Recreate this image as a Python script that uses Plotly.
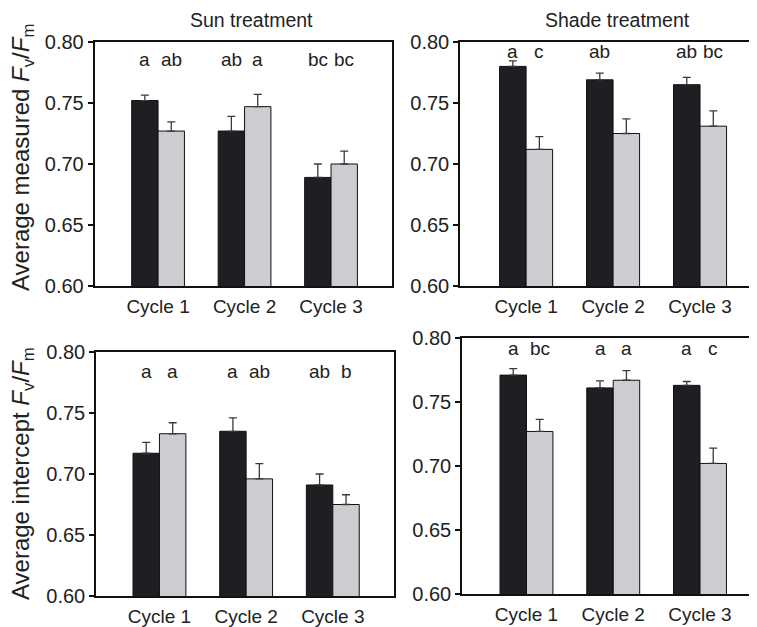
import plotly.graph_objects as go
from plotly.subplots import make_subplots

cycles = ["Cycle 1", "Cycle 2", "Cycle 3"]
y_ticks = [0.60, 0.65, 0.70, 0.75, 0.80]

# Sun treatment, measured Fv/Fm
sun_meas_dark = [0.752, 0.727, 0.689]
sun_meas_dark_err = [0.0045, 0.012, 0.011]
sun_meas_light = [0.727, 0.747, 0.700]
sun_meas_light_err = [0.0075, 0.010, 0.0105]
sun_meas_dark_letters = ["a", "ab", "bc"]
sun_meas_light_letters = ["ab", "a", "bc"]

# Shade treatment, measured Fv/Fm
shade_meas_dark = [0.780, 0.769, 0.765]
shade_meas_dark_err = [0.0045, 0.0055, 0.006]
shade_meas_light = [0.712, 0.725, 0.731]
shade_meas_light_err = [0.0105, 0.012, 0.0125]
shade_meas_dark_letters = ["a", "ab", "ab"]
shade_meas_light_letters = ["c", "", "bc"]

# Sun treatment, intercept Fv/Fm
sun_int_dark = [0.717, 0.735, 0.691]
sun_int_dark_err = [0.009, 0.011, 0.009]
sun_int_light = [0.733, 0.696, 0.675]
sun_int_light_err = [0.009, 0.0125, 0.008]
sun_int_dark_letters = ["a", "a", "ab"]
sun_int_light_letters = ["a", "ab", "b"]

# Shade treatment, intercept Fv/Fm
shade_int_dark = [0.771, 0.761, 0.763]
shade_int_dark_err = [0.005, 0.0055, 0.003]
shade_int_light = [0.727, 0.767, 0.702]
shade_int_light_err = [0.0095, 0.0075, 0.012]
shade_int_dark_letters = ["a", "a", "a"]
shade_int_light_letters = ["bc", "a", "c"]

# page body has an 8px margin, so the figure is shrunk and positions offset
OFF = 8
W, H = 757 - OFF, 627 - OFF
FONT = "Liberation Sans, Arial, Helvetica, sans-serif"
DARK = "#1e1f23"
LIGHT = "#cbcdd0"
TXT = "#222222"

def px_x(v):
    return (v - OFF) / W

def px_y(v):
    return 1 - (v - OFF) / H

panels = [
    dict(row=1, col=1, dark=sun_meas_dark, dark_err=sun_meas_dark_err,
         light=sun_meas_light, light_err=sun_meas_light_err,
         dl=sun_meas_dark_letters, ll=sun_meas_light_letters,
         xd=(94.5, 392), yd=(42, 286), xr=[-0.735, 2.705], ly=0.786, box=True),
    dict(row=1, col=2, dark=shade_meas_dark, dark_err=shade_meas_dark_err,
         light=shade_meas_light, light_err=shade_meas_light_err,
         dl=shade_meas_dark_letters, ll=shade_meas_light_letters,
         xd=(460, 757), yd=(42, 286), xr=[-0.76, 2.655], ly=0.792, box=False),
    dict(row=2, col=1, dark=sun_int_dark, dark_err=sun_int_dark_err,
         light=sun_int_light, light_err=sun_int_light_err,
         dl=sun_int_dark_letters, ll=sun_int_light_letters,
         xd=(96, 394), yd=(352, 596), xr=[-0.732, 2.706], ly=0.784, box=True),
    dict(row=2, col=2, dark=shade_int_dark, dark_err=shade_int_dark_err,
         light=shade_int_light, light_err=shade_int_light_err,
         dl=shade_int_dark_letters, ll=shade_int_light_letters,
         xd=(462, 757), yd=(338, 594), xr=[-0.743, 2.657], ly=0.792, box=False),
]

fig = make_subplots(rows=2, cols=2)
xpos = list(range(len(cycles)))
bar_w = 0.305

annotations = []
for i, p in enumerate(panels):
    for vals, errs, color in ((p["dark"], p["dark_err"], DARK), (p["light"], p["light_err"], LIGHT)):
        fig.add_trace(go.Bar(
            x=xpos, y=vals, marker=dict(color=color, line=dict(color="#111111", width=1)),
            error_y=dict(type="data", array=errs, arrayminus=[0] * len(errs), symmetric=False,
                         color="#3a3a3a", thickness=1.3, width=4),
            showlegend=False, hoverinfo="skip"),
            row=p["row"], col=p["col"])
    suffix = "" if i == 0 else str(i + 1)
    for k in xpos:
        for off, letters in ((-bar_w / 2, p["dl"]), (bar_w / 2, p["ll"])):
            if letters[k]:
                annotations.append(dict(
                    x=k + off, y=p["ly"], xref="x" + suffix, yref="y" + suffix,
                    text=letters[k], showarrow=False,
                    font=dict(family=FONT, size=19, color=TXT),
                    xanchor="center", yanchor="middle"))
    fig.update_layout(**{
        "xaxis" + suffix: dict(
            domain=[px_x(p["xd"][0]), min(1.0, px_x(p["xd"][1]))], range=p["xr"],
            tickvals=xpos, ticktext=cycles, showline=True, linecolor="#111111", linewidth=1.5,
            mirror=True, ticks="", showgrid=False, zeroline=False, automargin=False,
            tickfont=dict(family=FONT, size=19, color=TXT),
            ticklabelstandoff=2),
        "yaxis" + suffix: dict(
            domain=[px_y(p["yd"][1]), px_y(p["yd"][0])], range=[0.60, 0.80],
            tickvals=y_ticks, tickformat=".2f", showline=True, linecolor="#111111", linewidth=1.5,
            mirror=p["box"], ticks="outside", ticklen=5, tickwidth=1.5, tickcolor="#111111",
            showgrid=False, zeroline=False, automargin=False,
            tickfont=dict(family=FONT, size=20, color=TXT)),
    })

# panel titles
annotations.append(dict(x=px_x(251), y=px_y(20), xref="paper", yref="paper",
                        text="Sun treatment", showarrow=False,
                        font=dict(family=FONT, size=19.5, color=TXT),
                        xanchor="center", yanchor="middle"))
annotations.append(dict(x=px_x(617), y=px_y(20), xref="paper", yref="paper",
                        text="Shade treatment", showarrow=False,
                        font=dict(family=FONT, size=19.5, color=TXT),
                        xanchor="center", yanchor="middle"))
# y-axis titles
annotations.append(dict(x=px_x(22), y=px_y(158), xref="paper", yref="paper",
                        text="Average measured <i>F</i><sub>v</sub>/<i>F</i><sub>m</sub>",
                        textangle=-90, showarrow=False,
                        font=dict(family=FONT, size=24, color=TXT),
                        xanchor="center", yanchor="middle"))
annotations.append(dict(x=px_x(22), y=px_y(474), xref="paper", yref="paper",
                        text="Average intercept <i>F</i><sub>v</sub>/<i>F</i><sub>m</sub>",
                        textangle=-90, showarrow=False,
                        font=dict(family=FONT, size=24, color=TXT),
                        xanchor="center", yanchor="middle"))

fig.update_layout(
    width=W, height=H, margin=dict(l=0, r=0, t=0, b=0, autoexpand=False),
    barmode="group", bargap=0.39, bargroupgap=0,
    plot_bgcolor="white", paper_bgcolor="white",
    showlegend=False, annotations=annotations,
    font=dict(family=FONT, color=TXT),
)

fig.write_html("out.html")
